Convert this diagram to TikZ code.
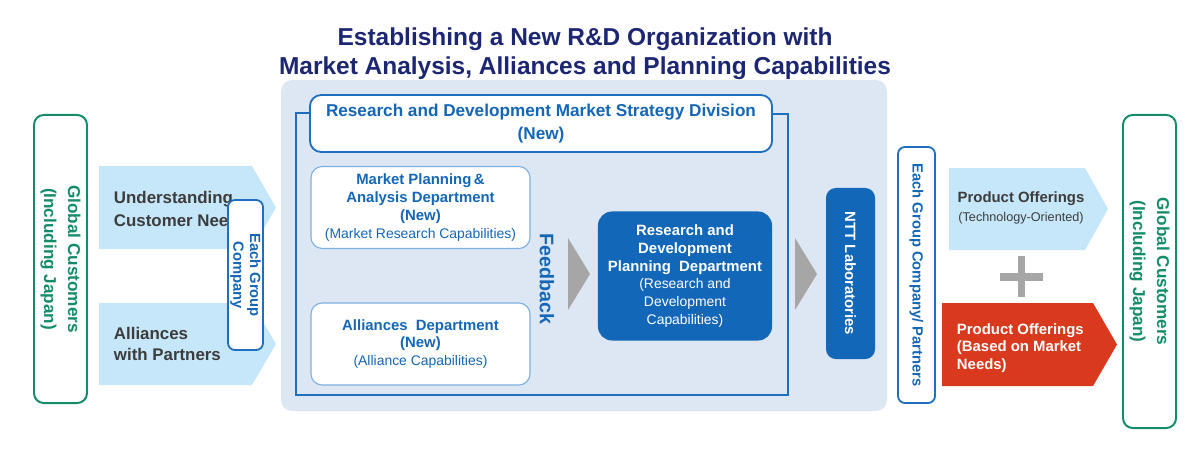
\documentclass[tikz,border=0pt]{standalone}
\usepackage{fontspec}
\setmainfont{Liberation Sans}
\definecolor{navy}{RGB}{28,38,115}
\definecolor{ltblue}{RGB}{198,230,250}
\definecolor{panel}{RGB}{221,231,244}
\definecolor{fillblue}{RGB}{18,103,184}
\definecolor{txtblue}{RGB}{21,102,182}
\definecolor{lineblue}{RGB}{31,111,191}
\definecolor{softline}{RGB}{125,175,225}
\definecolor{grn}{RGB}{20,140,105}
\definecolor{redo}{RGB}{217,58,30}
\definecolor{tri}{RGB}{166,166,166}
\definecolor{dark}{RGB}{60,60,60}
\tikzset{
  greenbox/.style={draw=grn, line width=1.4pt, rounded corners=7pt, fill=white, rotate=-90,
    inner sep=0pt, align=center, text=grn, font=\bfseries\fontsize{12.2}{17}\selectfont},
  egbox/.style={draw=lineblue, line width=1.3pt, rounded corners=5pt, fill=white, rotate=-90,
    inner sep=0pt, align=center, text=txtblue, font=\bfseries\fontsize{10.5}{12}\selectfont},
  deptbox/.style={draw=softline, line width=0.8pt, rounded corners=8pt, fill=white,
    inner sep=0pt, align=center, text=txtblue},
  arrowshape/.style={fill=ltblue},
  tritip/.style={fill=tri},
  armtext/.style={anchor=west, align=left, text=dark, font=\bfseries\fontsize{12}{15.8}\selectfont},
}
\begin{document}
\begin{tikzpicture}[x=0.025cm,y=-0.025cm]
\useasboundingbox (0,0) rectangle (1200,450);

% title
\node[text=navy, align=center, font=\bfseries\fontsize{17.4}{20.5}\selectfont] (title) at (585,54)
  {Establishing a New R\&D Organization with\\Market Analysis, Alliances and Planning Capabilities};

% left customers
\node[greenbox, minimum width=7.2cm, minimum height=1.325cm] (gcl) at (60.5,259)
  {Global Customers\\(Including Japan)};

% left light-blue arrows
\fill[arrowshape] (99,166) -- (252,166) -- (276,207.5) -- (252,249) -- (99,249) -- cycle;
\fill[arrowshape] (99,303) -- (252,303) -- (276,344) -- (252,385) -- (99,385) -- cycle;
\node[armtext] (und) at (109,209) {Understanding\\Customer Nee};
\node[armtext, font=\bfseries\fontsize{12}{15.2}\selectfont] (all) at (109,344) {Alliances\\with Partners};

\node[egbox, minimum width=3.75cm, minimum height=0.875cm] (egc) at (245.5,275)
  {Each Group\\Company};

% central panel
\fill[panel, rounded corners=8pt] (281,80) rectangle (887,411);
\draw[lineblue, line width=1.3pt] (310,113) -- (296,113) -- (296,395) -- (788,395) -- (788,114) -- (772,114);
\node[draw=lineblue, line width=1.3pt, rounded corners=8pt, fill=white, inner sep=0pt,
  minimum width=11.55cm, minimum height=1.425cm, align=center, text=txtblue,
  font=\bfseries\fontsize{12.2}{16.5}\selectfont] (hdr) at (541,123.5)
  {Research and Development  Market Strategy Division\\(New)};

\node[deptbox, minimum width=5.475cm, minimum height=2.05cm, font=\fontsize{10.6}{13}\selectfont] (mpa) at (420.5,207.5)
  {\bfseries Market Planning\,\&\\
   \bfseries Analysis Department\\
   \bfseries (New)\\
   \fontsize{9.9}{13}\selectfont (Market Research Capabilities)};
\node[deptbox, minimum width=5.475cm, minimum height=2.05cm, font=\fontsize{10.6}{12.7}\selectfont] (ald) at (420.5,344)
  {\bfseries Alliances~ Department\\
   \bfseries (New)\\
   \fontsize{9.9}{12.7}\selectfont (Alliance Capabilities)};

\node[rotate=-90, text=txtblue, font=\bfseries\fontsize{14}{16}\selectfont] (fb) at (547,279) {Feedback};

\fill[tritip] (568,238) -- (590,274) -- (568,310) -- cycle;
\node[fill=fillblue, rounded corners=10pt, inner sep=0pt, minimum width=4.35cm, minimum height=3.225cm,
  align=center, text=white, font=\fontsize{10.6}{12.7}\selectfont] (rdp) at (685,276)
  {\bfseries Research and\\
   \bfseries Development\\
   \bfseries Planning~ Department\\
   \fontsize{9.9}{12.7}\selectfont (Research and\\
   \fontsize{9.9}{12.7}\selectfont Development\\
   \fontsize{9.9}{12.7}\selectfont Capabilities)};

\fill[tritip] (795,238) -- (817,274) -- (795,310) -- cycle;
\node[fill=fillblue, rounded corners=7pt, rotate=-90, inner sep=0pt, minimum width=4.275cm,
  minimum height=1.225cm, text=white, font=\bfseries\fontsize{10.6}{12}\selectfont] (ntt) at (850.5,273.5)
  {NTT Laboratories};

% right side
\node[egbox, minimum width=6.4cm, minimum height=0.925cm] (egp) at (916.5,275)
  {Each Group Company/ Partners};

\fill[arrowshape] (949,168) -- (1085,168) -- (1108,209) -- (1085,250) -- (949,250) -- cycle;
\node[align=center, text=dark, font=\fontsize{10.6}{13.2}\selectfont] (pot) at (1021,208)
  {\bfseries Product Offerings\\
   \fontsize{9}{13.2}\selectfont (Technology-Oriented)};

\draw[tri, line width=5pt] (1000,277) -- (1043,277);
\draw[tri, line width=5pt] (1021.5,256) -- (1021.5,297);

\fill[redo] (942,303) -- (1093,303) -- (1117,344.5) -- (1093,386) -- (942,386) -- cycle;
\node[anchor=west, align=left, text=white, font=\bfseries\fontsize{10.6}{12.5}\selectfont] (pom) at (952,348)
  {Product Offerings\\(Based on Market\\Needs)};

\node[greenbox, minimum width=7.825cm, minimum height=1.325cm] (gcr) at (1149.5,271.5)
  {Global Customers\\(Including Japan)};
\end{tikzpicture}
\end{document}
